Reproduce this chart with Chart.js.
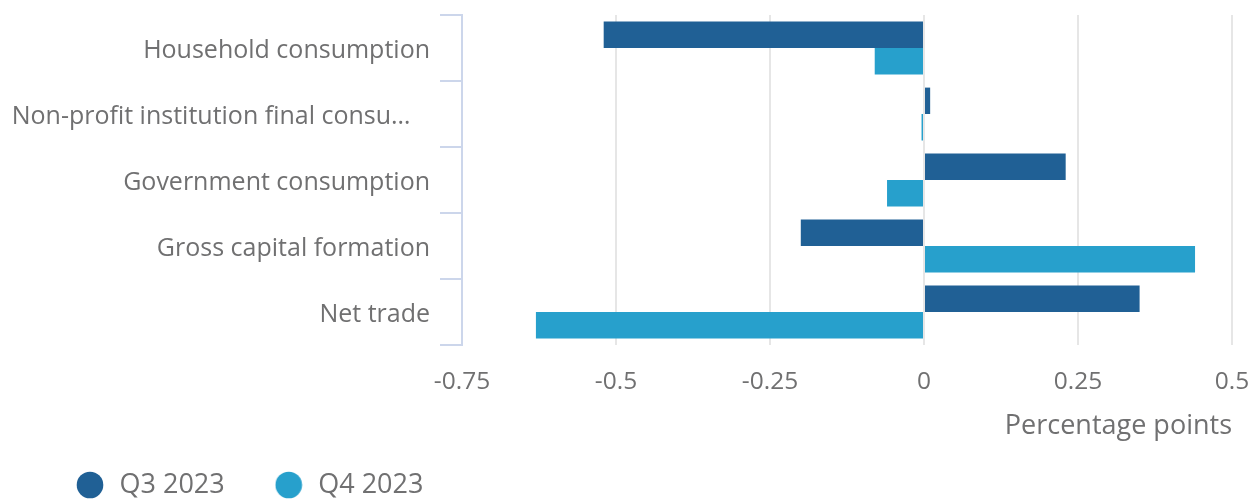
<!DOCTYPE html>
<html>
<head>
<meta charset="utf-8">
<script src="https://cdn.jsdelivr.net/npm/chart.js@4"></script>
<style>
html,body{margin:0;padding:0;background:#fff;}
#wrap{width:1258px;height:504px;position:relative;}
</style>
</head>
<body>
<div id="wrap"><canvas id="c"></canvas></div>
<script>
const categories = ['Household consumption', 'Non-profit institution final consu\u2026\u00a0\u00a0\u00a0', 'Government consumption', 'Gross capital formation', 'Net trade'];
const seriesNames = ['Q3 2023', 'Q4 2023'];
const q3Values = [-0.52, 0.01, 0.23, -0.2, 0.35];
const q4Values = [-0.08, -0.004, -0.06, 0.44, -0.63];
const xTicks = [-0.75, -0.5, -0.25, 0, 0.25, 0.5];
const seriesColors = ['#206095', '#27a0cc'];

const textColor = '#707071';
Chart.defaults.font.family = "'Open Sans', sans-serif";
Chart.defaults.font.size = 25;
Chart.defaults.color = textColor;

function dot(color) {
  const c = document.createElement('canvas');
  c.width = 28; c.height = 28;
  const g = c.getContext('2d');
  g.fillStyle = color;
  g.beginPath(); g.arc(14, 14, 13.3, 0, Math.PI * 2); g.fill();
  return c;
}
const dots = seriesColors.map(dot);

const legendPos = {
  id: 'legendPos',
  afterLayout(chart) {
    const l = chart.legend;
    const p = l.options.labels.padding;
    l.left = 74 - p;
    l.right = chart.width + 200;
    l.top = 471.5 - p;
    l.bottom = chart.height;
  }
};

new Chart(document.getElementById('c'), {
  type: 'bar',
  data: {
    labels: categories,
    datasets: [
      { label: seriesNames[0], data: q3Values, backgroundColor: seriesColors[0], borderWidth: 0, categoryPercentage: 0.8, barPercentage: 1 },
      { label: seriesNames[1], data: q4Values, backgroundColor: seriesColors[1], borderWidth: 0, categoryPercentage: 0.8, barPercentage: 1 }
    ]
  },
  options: {
    indexAxis: 'y',
    responsive: true,
    maintainAspectRatio: false,
    animation: false,
    devicePixelRatio: 1,
    layout: { padding: { top: 15, right: 26, left: 0, bottom: 0 } },
    scales: {
      x: {
        min: xTicks[0],
        max: xTicks[xTicks.length - 1],
        afterBuildTicks(scale) { scale.ticks = xTicks.map(v => ({ value: v })); },
        afterFit(scale) { scale.height = 100; scale.paddingLeft = 0; scale.paddingRight = 0; },
        ticks: { padding: 22, color: textColor, font: { size: 24.5 }, callback: v => String(v) },
        grid: { color: '#e6e6e6', lineWidth: 2, drawTicks: false },
        border: { display: false },
        title: { display: true, text: 'Percentage points', align: 'end', color: textColor, font: { size: 27 }, padding: { top: 0, bottom: 2 } }
      },
      y: {
        afterFit(scale) { scale.width = 462; scale.paddingTop = 0; scale.paddingBottom = 0; },
        ticks: { padding: 10, labelOffset: 3, color: textColor, font: { size: 25 } },
        grid: { offset: true, drawOnChartArea: false, drawTicks: true, tickLength: 22, color: '#ccd6eb', lineWidth: 2 },
        border: { display: true, color: '#ccd6eb', width: 2 }
      }
    },
    plugins: {
      legend: {
        position: 'bottom',
        align: 'start',
        maxHeight: 59,
        labels: {
          usePointStyle: true,
          pointStyleWidth: 32,
          boxHeight: 27,
          padding: 48,
          color: textColor,
          font: { size: 27 },
          generateLabels(chart) {
            const items = Chart.defaults.plugins.legend.labels.generateLabels(chart);
            items.forEach((it, i) => { it.pointStyle = dots[i]; it.fillStyle = seriesColors[i]; it.strokeStyle = seriesColors[i]; it.lineWidth = 0; });
            return items;
          }
        }
      },
      tooltip: { enabled: false }
    }
  },
  plugins: [legendPos]
});
</script>
</body>
</html>
